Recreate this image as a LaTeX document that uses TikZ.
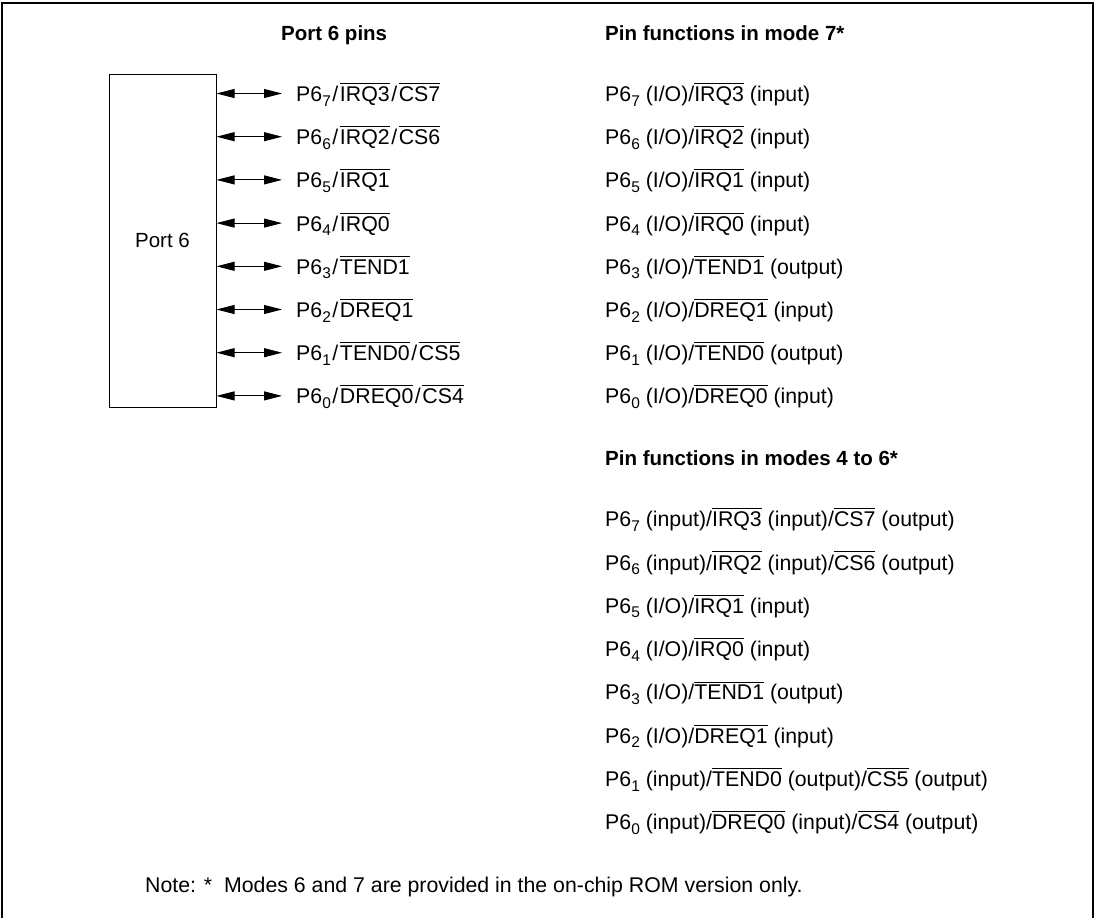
\documentclass[tikz,border=0pt]{standalone}
\usepackage{fontspec}
\setmainfont{Liberation Sans}
\usetikzlibrary{arrows.meta}
\newcommand\ob[1]{\leavevmode\vbox{\hrule height 0.9pt\kern 2.8pt\hbox{#1}}}
\newcommand\pinsub[1]{\raisebox{-4.5pt}{\fontsize{15.5}{16}\selectfont #1}}
\newcommand\pinslash{\kern1.6pt/\kern1.6pt}
\tikzset{
  txt/.style={anchor=base west, inner sep=0pt, font=\fontsize{21.3}{25}\selectfont},
  hdr/.style={anchor=base west, inner sep=0pt, font=\fontsize{20.5}{24}\selectfont\bfseries},
  portbox/.style={draw, line width=1pt, minimum width=107pt, minimum height=333pt, inner sep=0pt, font=\fontsize{20.5}{24}\selectfont},
  pinarrow/.style={line width=0.9pt, {Triangle[length=18pt,width=9pt]}-{Triangle[length=18pt,width=9pt]}},
  frame/.style={line width=2pt}
}
\begin{document}
\begin{tikzpicture}[x=1pt,y=-1pt]
\useasboundingbox (0,0) rectangle (1098,918);
\draw[frame] (2,918) -- (2,3) -- (1093,3) -- (1093,918);

\node[hdr] (h1) at (281,40) {Port 6 pins};
\node[hdr] (h2) at (605,40) {Pin functions in mode 7*};
\node[hdr] (h3) at (605,465) {Pin functions in modes 4 to 6*};

\node[portbox] (port) at (162.5,240.5) {Port 6};

% left pin labels
\node[txt] (l7) at (296,101.5) {P6\pinsub{7}\pinslash\ob{IRQ3}\pinslash\ob{CS7}};
\node[txt] (l6) at (296,144.7) {P6\pinsub{6}\pinslash\ob{IRQ2}\pinslash\ob{CS6}};
\node[txt] (l5) at (296,187.9) {P6\pinsub{5}\pinslash\ob{IRQ1}};
\node[txt] (l4) at (296,231.1) {P6\pinsub{4}\pinslash\ob{IRQ0}};
\node[txt] (l3) at (296,274.3) {P6\pinsub{3}\pinslash\ob{TEND1}};
\node[txt] (l2) at (296,317.5) {P6\pinsub{2}\pinslash\ob{DREQ1}};
\node[txt] (l1) at (296,360.7) {P6\pinsub{1}\pinslash\ob{TEND0}\pinslash\ob{CS5}};
\node[txt] (l0) at (296,403.9) {P6\pinsub{0}\pinslash\ob{DREQ0}\pinslash\ob{CS4}};

\foreach \i/\y in {7/93.5,6/136.7,5/179.9,4/223.1,3/266.3,2/309.5,1/352.7,0/395.9}{
  \coordinate (a\i) at (282,\y);
  \draw[pinarrow] (port.east |- a\i) -- (a\i);
}

% mode 7
\node[txt] (m7) at (605,101.5) {P6\pinsub{7} (I/O)/\ob{IRQ3} (input)};
\node[txt] (m6) at (605,144.7) {P6\pinsub{6} (I/O)/\ob{IRQ2} (input)};
\node[txt] (m5) at (605,187.9) {P6\pinsub{5} (I/O)/\ob{IRQ1} (input)};
\node[txt] (m4) at (605,231.1) {P6\pinsub{4} (I/O)/\ob{IRQ0} (input)};
\node[txt] (m3) at (605,274.3) {P6\pinsub{3} (I/O)/\ob{TEND1} (output)};
\node[txt] (m2) at (605,317.5) {P6\pinsub{2} (I/O)/\ob{DREQ1} (input)};
\node[txt] (m1) at (605,360.7) {P6\pinsub{1} (I/O)/\ob{TEND0} (output)};
\node[txt] (m0) at (605,403.9) {P6\pinsub{0} (I/O)/\ob{DREQ0} (input)};

% modes 4 to 6
\node[txt] (n7) at (605,526.7) {P6\pinsub{7} (input)/\ob{IRQ3} (input)/\ob{CS7} (output)};
\node[txt] (n6) at (605,570.0) {P6\pinsub{6} (input)/\ob{IRQ2} (input)/\ob{CS6} (output)};
\node[txt] (n5) at (605,613.3) {P6\pinsub{5} (I/O)/\ob{IRQ1} (input)};
\node[txt] (n4) at (605,656.6) {P6\pinsub{4} (I/O)/\ob{IRQ0} (input)};
\node[txt] (n3) at (605,699.9) {P6\pinsub{3} (I/O)/\ob{TEND1} (output)};
\node[txt] (n2) at (605,743.2) {P6\pinsub{2} (I/O)/\ob{DREQ1} (input)};
\node[txt] (n1) at (605,786.5) {P6\pinsub{1} (input)/\ob{TEND0} (output)/\ob{CS5} (output)};
\node[txt] (n0) at (605,829.8) {P6\pinsub{0} (input)/\ob{DREQ0} (input)/\ob{CS4} (output)};

\node[txt] (note) at (145,892) {Note: *\ \ Modes 6 and 7 are provided in the on-chip ROM version only.};
\end{tikzpicture}
\end{document}
